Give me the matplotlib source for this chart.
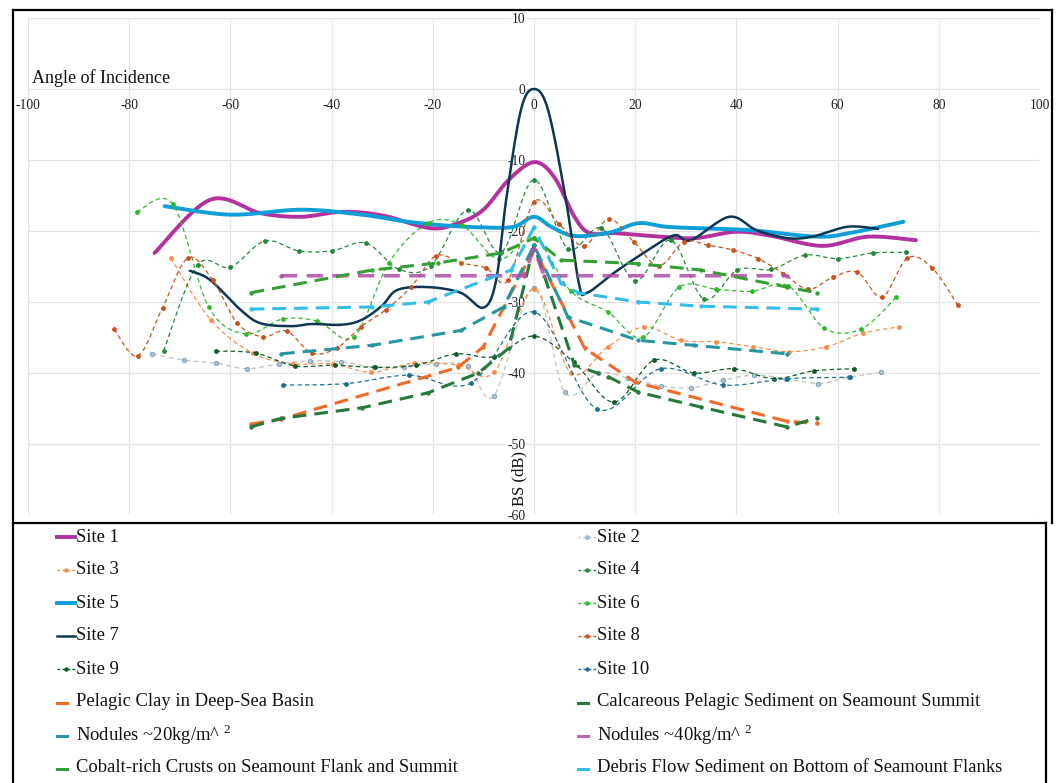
import numpy as np
import matplotlib
matplotlib.use("Agg")
import matplotlib.pyplot as plt
from matplotlib.lines import Line2D

plt.rcParams['font.family'] = ['Liberation Serif', 'DejaVu Serif']
plt.rcParams['axes.unicode_minus'] = False
plt.rcParams['mathtext.fontset'] = 'custom'
plt.rcParams['mathtext.rm'] = 'Liberation Serif'

# ---------------- data (angle of incidence, BS dB) ----------------
x_ticks = list(range(-100, 101, 20))
y_ticks = list(range(-60, 11, 10))

site1_x = [-75, -64, -54, -46, -38, -30, -20.5, -15, -10, -5, 0, 4, 8, 11, 16, 25, 32, 40, 47, 57, 66, 75.5]
site1_y = [-23.1, -15.6, -17.5, -18.0, -17.3, -17.8, -19.6, -18.9, -17.0, -12.8, -10.3, -12.4, -18.0, -20.3, -20.3, -20.8, -21.0, -20.1, -20.7, -22.1, -20.8, -21.3]

site2_x = [-75.4, -69.2, -62.9, -56.8, -50.4, -44.3, -38.2, -31.6, -25.7, -19.4, -13.1, -7.9, 0, 6.1, 12.7, 18.6, 25, 31, 37.4, 43.5, 49.9, 56.2, 62.3, 68.6]
site2_y = [-37.3, -38.2, -38.6, -39.4, -38.7, -38.3, -38.4, -39.2, -39.2, -38.7, -39.0, -43.2, -28.0, -42.7, -40.0, -40.7, -41.8, -42.1, -41.0, -40.3, -40.8, -41.5, -40.6, -39.9]

site3_x = [-71.8, -63.9, -55.6, -47.7, -39.8, -32.2, -23.7, -15, -7.9, 0, 7.3, 14.6, 21.8, 29, 36, 43.3, 50.4, 57.8, 65, 72.2]
site3_y = [-23.8, -32.5, -37.2, -38.7, -38.7, -39.9, -38.6, -38.9, -39.9, -28.2, -40.0, -36.3, -33.5, -35.4, -35.6, -36.3, -37.0, -36.3, -34.4, -33.5]

site4_x = [-73.2, -66.5, -60, -53.2, -46.5, -40, -33.2, -26.7, -20.4, -13.1, -6.5, 0, 6.7, 13.3, 20, 27, 33.6, 40.2, 46.9, 53.6, 60.1, 66.9, 73.6]
site4_y = [-36.9, -24.8, -25.1, -21.4, -22.8, -22.8, -21.7, -25.4, -24.9, -17.0, -23.0, -12.8, -22.5, -19.6, -27.0, -21.3, -29.6, -25.5, -25.4, -23.4, -23.9, -23.1, -23.0]

site5_x = [-73, -60, -46, -34, -26, -18, -10, -4, 0, 3.4, 8, 15, 20.6, 26, 32, 43, 56, 63, 73]
site5_y = [-16.5, -17.7, -17.0, -17.7, -18.6, -19.2, -19.5, -19.4, -18.0, -19.4, -20.7, -20.2, -18.9, -19.4, -19.6, -19.9, -20.8, -20.2, -18.7]

site6_x = [-78.5, -71.4, -64.3, -57, -49.7, -42.8, -35.6, -28.7, -21, -14.2, -7, 0, 7.3, 14.6, 21.5, 28.7, 36, 43, 50.2, 57.4, 64.7, 71.6]
site6_y = [-17.3, -16.2, -30.7, -34.5, -32.4, -32.7, -34.9, -24.5, -18.9, -19.2, -24.0, -21.0, -28.5, -31.4, -35.0, -27.9, -28.2, -28.5, -27.7, -33.7, -33.8, -29.3]

site7_x = [-68, -64, -58, -54, -48, -44, -38, -34, -30, -27, -21, -14.5, -10, -7.5, -5.5, -2.6, 0, 2.8, 6.3, 8.9, 10.5, 15.8, 22.5, 27.7, 31, 38.6, 44, 50, 55, 62, 68]
site7_y = [-25.6, -26.9, -31.1, -33.0, -33.4, -33.1, -33.2, -32.5, -30.5, -28.3, -27.9, -28.7, -30.8, -27.0, -15.6, -3.0, 0.0, -3.0, -15.6, -27.5, -28.7, -25.9, -22.7, -20.6, -21.3, -18.0, -19.9, -21.0, -20.8, -19.4, -19.7]

site8_x = [-83, -78.3, -73.4, -68.4, -63.5, -58.6, -53.6, -48.9, -43.9, -39, -34.2, -29.3, -24.3, -19.4, -14.4, -9.5, -5.1, 0, 4.9, 9.9, 14.8, 19.8, 24.7, 29.7, 34.4, 39.4, 44.3, 49.3, 54.2, 59.1, 63.9, 68.8, 73.8, 78.7, 83.7]
site8_y = [-33.8, -37.6, -30.8, -23.8, -26.9, -33.0, -34.9, -34.1, -37.2, -36.5, -33.5, -31.1, -27.9, -23.5, -24.5, -25.2, -26.9, -15.9, -19.0, -22.1, -18.3, -21.6, -24.9, -21.5, -22.0, -22.7, -23.9, -26.0, -28.2, -26.5, -25.8, -29.3, -23.8, -25.2, -30.4]

site9_x = [-62.9, -55, -47.3, -39.4, -31.5, -23.3, -15.4, -7.9, 0, 7.9, 15.8, 23.7, 31.6, 39.5, 47.4, 55.3, 63.2]
site9_y = [-36.9, -37.2, -39.0, -38.9, -39.2, -38.9, -37.3, -37.7, -34.8, -38.5, -44.1, -38.2, -40.0, -39.4, -40.8, -39.7, -39.4]

site10_x = [-49.7, -37.2, -24.7, -12.4, 0, 12.5, 25, 37.4, 50, 62.5]
site10_y = [-41.7, -41.5, -40.3, -41.4, -31.4, -45.1, -39.4, -41.7, -40.8, -40.6]

clay_x = [-56, -50, -15, -10, 0, 10, 20, 50, 56]
clay_y = [-47.2, -46.5, -39.2, -36.3, -22.5, -36.5, -41.3, -46.8, -47.1]

calc_x = [-56, -50, -34, -21, -11, -5, 0, 8, 14.6, 20.6, 33, 50, 56]
calc_y = [-47.6, -46.4, -44.9, -42.8, -40.0, -36.5, -22.0, -38.9, -40.5, -42.7, -44.8, -47.6, -46.3]

nod20_x = [-50, -32, -14.4, -6, 0, 6.7, 20.6, 31.6, 50]
nod20_y = [-37.3, -36.1, -34.0, -30.7, -22.0, -32.1, -35.4, -36.1, -37.3]

nod40_x = [-50, -2, 0, 2, 50]
nod40_y = [-26.3, -26.3, -22.5, -26.3, -26.3]

cobalt_x = [-56, -32, -19, -6.5, 0, 5.3, 20.6, 33, 50, 56]
cobalt_y = [-28.7, -25.5, -24.5, -23.1, -21.0, -24.1, -24.6, -25.5, -27.9, -28.7]

debris_x = [-56, -32, -21, -4.5, 0, 5.3, 8.7, 20.6, 33, 56]
debris_y = [-31.0, -30.7, -30.0, -25.5, -19.5, -27.3, -28.7, -30.0, -30.6, -31.0]

labels = ["Site 1", "Site 2", "Site 3", "Site 4", "Site 5", "Site 6", "Site 7",
          "Site 8", "Site 9", "Site 10",
          "Pelagic Clay in Deep-Sea Basin",
          "Calcareous Pelagic Sediment on Seamount Summit",
          "Nodules ~20kg/m^ $^{2}$",
          "Nodules ~40kg/m^ $^{2}$",
          "Cobalt-rich Crusts on Seamount Flank and Summit",
          "Debris Flow Sediment on Bottom of Seamount Flanks"]

# ---------------- styles ----------------
DOT = (0, (3.5, 2.5))
DASH = (0, (4.5, 2.6))
styles = [
    dict(color='#B4329F', lw=2.8, ls='-', marker=None, smooth=True),
    dict(color='#C4C4C4', lw=1.0, ls=DOT, marker='o', mfc='#A8C2D3', mec='#7E9DB3', ms=3.2, smooth=True),
    dict(color='#FA8C45', lw=0.9, ls=DOT, marker='o', ms=2.8, smooth=True),
    dict(color='#24893A', lw=0.9, ls=DOT, marker='o', ms=2.8, smooth=True),
    dict(color='#0E9FD8', lw=2.8, ls='-', marker=None, smooth=True),
    dict(color='#2DBA2D', lw=0.9, ls=DOT, marker='o', ms=2.8, smooth=True),
    dict(color='#0C3854', lw=1.8, ls='-', marker=None, smooth=True),
    dict(color='#C9521A', lw=0.9, ls=DOT, marker='o', ms=2.8, smooth=True),
    dict(color='#0F5A28', lw=0.9, ls=DOT, marker='o', ms=2.8, smooth=True),
    dict(color='#1F6E94', lw=0.9, ls=DOT, marker='o', ms=2.8, smooth=True),
    dict(color='#F26A26', lw=2.2, ls=DASH, marker='o', ms=2.5, smooth=False),
    dict(color='#237A3A', lw=2.2, ls=DASH, marker='o', ms=2.5, smooth=False),
    dict(color='#2597A3', lw=2.2, ls=DASH, marker='o', ms=2.5, smooth=False),
    dict(color='#B04DA6', lw=2.6, ls=DASH, marker='o', ms=2.5, smooth=False, alpha=0.85),
    dict(color='#32A032', lw=2.2, ls=DASH, marker='o', ms=2.5, smooth=False),
    dict(color='#33BDEB', lw=2.2, ls=DASH, marker='o', ms=2.5, smooth=False),
]

series = [(site1_x, site1_y), (site2_x, site2_y), (site3_x, site3_y), (site4_x, site4_y),
          (site5_x, site5_y), (site6_x, site6_y), (site7_x, site7_y), (site8_x, site8_y),
          (site9_x, site9_y), (site10_x, site10_y), (clay_x, clay_y), (calc_x, calc_y),
          (nod20_x, nod20_y), (nod40_x, nod40_y), (cobalt_x, cobalt_y), (debris_x, debris_y)]


def smooth(x, y, n=18):
    P = np.column_stack([np.asarray(x, float), np.asarray(y, float)])
    E = np.vstack([P[0], P, P[-1]])
    t = np.linspace(0, 1, n, endpoint=False)[:, None]
    out = []
    for i in range(len(P) - 1):
        p0, p1, p2, p3 = E[i], E[i + 1], E[i + 2], E[i + 3]
        c1 = p1 + (p2 - p0) / 6.0
        c2 = p2 - (p3 - p1) / 6.0
        out.append((1 - t) ** 3 * p1 + 3 * (1 - t) ** 2 * t * c1 + 3 * (1 - t) * t ** 2 * c2 + t ** 3 * p2)
    out.append(P[-1:])
    S = np.vstack(out)
    return S[:, 0], S[:, 1]


W, H = 1059, 783
fig = plt.figure(figsize=(W / 100, H / 100), dpi=100)
ax = fig.add_axes([28 / W, 1 - 515 / H, (1040 - 28) / W, (515 - 18) / H])
ax.set_xlim(-100, 100)
ax.set_ylim(-60, 10)
ax.set_xticks(x_ticks)
ax.set_yticks(y_ticks)
ax.grid(True, color='#E4E4E4', lw=0.9)
ax.set_axisbelow(True)
for s in ['top', 'right']:
    ax.spines[s].set_visible(False)
ax.spines['left'].set_position(('data', 0))
ax.spines['bottom'].set_position(('data', 0))
ax.spines['left'].set_color('none')
ax.spines['bottom'].set_color('none')
ax.tick_params(axis='both', length=0, labelsize=9.8, colors='#222222')
ax.tick_params(axis='y', pad=6)
ax.tick_params(axis='x', pad=7)
for lab in ax.get_yticklabels():
    lab.set_bbox(dict(facecolor='white', edgecolor='none', pad=0.6))

for i, ((xs, ys), st) in enumerate(zip(series, styles)):
    z = 3 + i * 0.1
    if st['smooth']:
        sx, sy = smooth(xs, ys)
    else:
        sx, sy = np.asarray(xs, float), np.asarray(ys, float)
    ax.plot(sx, sy, color=st['color'], lw=st['lw'], ls=st['ls'],
            alpha=st.get('alpha', 1.0), zorder=z, solid_capstyle='round',
            dash_capstyle='butt')
    if st['marker']:
        ax.plot(xs, ys, ls='none', marker=st['marker'], ms=st['ms'],
                mfc=st.get('mfc', st['color']), mec=st.get('mec', st['color']),
                mew=0.6, alpha=st.get('alpha', 1.0), zorder=z + 0.05)

ax.text(-99.2, 1.5, "Angle of Incidence", fontsize=13, ha='left', va='center', color='#111111')
ax.text(-2.8, -54.9, "BS (dB)", fontsize=12, rotation=90, ha='center', va='center', color='#111111')


def fx(px):
    return px / W


def fy(py):
    return 1 - py / H


# ---------------- legend ----------------
left_idx = [0, 2, 4, 6, 8, 10, 12, 14]
right_idx = [1, 3, 5, 7, 9, 11, 13, 15]
for col, (idxs, hx0, tx) in enumerate([(left_idx, 57, 76), (right_idx, 578, 597)]):
    for r, i in enumerate(idxs):
        py = 537 + 33 * r
        st = styles[i]
        if i < 10:
            ls = '-' if st['ls'] == '-' else (0, (2.0, 1.6))
            lw = st['lw'] if st['ls'] == '-' else 1.0
            fig.add_artist(Line2D([fx(hx0), fx(hx0 + 18)], [fy(py), fy(py)], color=st['color'],
                                  lw=lw, ls=ls, transform=fig.transFigure))
            if st['marker']:
                fig.add_artist(Line2D([fx(hx0 + 9)], [fy(py)], ls='none', marker='o', ms=2.6,
                                      mfc=st.get('mfc', st['color']), mec=st.get('mec', st['color']),
                                      mew=0.5, transform=fig.transFigure))
        else:
            fig.add_artist(Line2D([fx(hx0), fx(hx0 + 10)], [fy(py + 1), fy(py + 1)], color=st['color'],
                                  lw=2.2, alpha=st.get('alpha', 1.0), transform=fig.transFigure))
        fig.text(fx(tx), fy(py), labels[i], fontsize=13.4, ha='left', va='center', color='#111111')

# ---------------- frame lines ----------------
def fline(xs, ys, lw=1.6):
    fig.add_artist(Line2D([fx(v) for v in xs], [fy(v) for v in ys], color='black', lw=lw,
                          transform=fig.transFigure, solid_capstyle='projecting'))


fline([13, 1052], [9.5, 9.5])
fline([13, 13], [9.5, 783])
fline([1052, 1052], [9.5, 523])
fline([13, 1046], [523, 523])
fline([1046, 1046], [523, 783])

fig.savefig("out.png", dpi=100)
